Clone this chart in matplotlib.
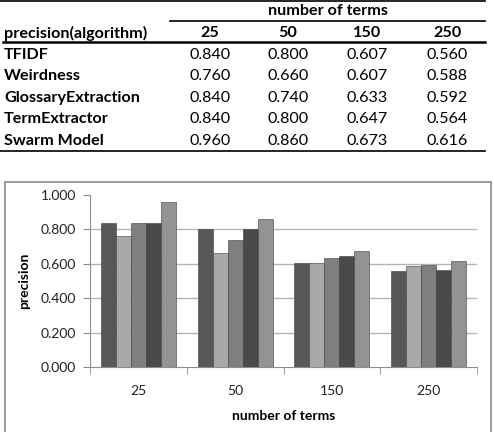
import matplotlib
matplotlib.use('Agg')
import matplotlib.pyplot as plt
import numpy as np
from matplotlib.lines import Line2D
from matplotlib.patches import Rectangle

terms = ['25', '50', '150', '250']
algorithms = ['TFIDF', 'Weirdness', 'GlossaryExtraction', 'TermExtractor', 'Swarm Model']
tfidf = [0.840, 0.800, 0.607, 0.560]
weirdness = [0.760, 0.660, 0.607, 0.588]
glossary = [0.840, 0.740, 0.633, 0.592]
termextractor = [0.840, 0.800, 0.647, 0.564]
swarm = [0.960, 0.860, 0.673, 0.616]
series = [tfidf, weirdness, glossary, termextractor, swarm]
colors = ['#585858', '#a9a9a9', '#7f7f7f', '#4a4a4a', '#939393']
yticks = [0.0, 0.2, 0.4, 0.6, 0.8, 1.0]

W, H = 494, 432
plt.rcParams['font.family'] = ['Lato', 'DejaVu Sans']
fig = plt.figure(figsize=(W / 100, H / 100), dpi=100)


def fx(x):
    return x / W


def fy(y):
    return 1 - y / H


def hline(x0, x1, y, lw=1.0, color='black'):
    fig.add_artist(Line2D([fx(x0), fx(x1)], [fy(y), fy(y)], lw=lw, color=color,
                          transform=fig.transFigure))


# ---- table ----
fs = 11.6
hline(0, 485, 1, lw=1.2)
fig.text(fx(328), fy(11), 'number of terms', ha='center', va='center',
         fontsize=fs, fontweight='bold')
hline(170, 485, 21, lw=1.2)
col_x = [210, 288, 367, 447]
fig.text(fx(4), fy(33), 'precision(algorithm)', ha='left', va='center',
         fontsize=fs, fontweight='bold')
for cx, t in zip(col_x, terms):
    fig.text(fx(cx), fy(33), t, ha='center', va='center', fontsize=fs, fontweight='bold')
hline(3, 485, 42, lw=1.8)
row_y = [55, 76, 98, 119, 141]
for ry, name, vals in zip(row_y, algorithms, series):
    fig.text(fx(4), fy(ry), name, ha='left', va='center', fontsize=fs, fontweight='bold')
    for cx, v in zip(col_x, vals):
        fig.text(fx(cx), fy(ry), '%.3f' % v, ha='center', va='center', fontsize=fs)
hline(0, 485, 151, lw=1.2)

# ---- chart frame ----
fig.add_artist(Rectangle((fx(5), fy(440)), fx(491) - fx(5), fy(182) - fy(440),
                         transform=fig.transFigure, fill=False, ec='#8c8c8c', lw=1.2))

ax = fig.add_axes([fx(90), fy(367), fx(477) - fx(90), fy(195) - fy(367)])
x = np.arange(len(terms))
bw = 0.155
for i, (vals, c) in enumerate(zip(series, colors)):
    ax.bar(x + (i - 2) * bw, vals, bw, color=c, edgecolor='#3c3c3c', linewidth=0.4,
           zorder=3)

ax.set_xlim(-0.5, len(terms) - 0.5)
ax.set_ylim(0, 1.0)
ax.set_yticks(yticks)
ax.set_yticklabels(['%.3f' % t for t in yticks], fontsize=10, color='#222222')
ax.set_xticks(x)
ax.set_xticklabels(terms, fontsize=10, color='#222222')
ax.set_xticks(np.arange(len(terms) + 1) - 0.5, minor=True)
ax.tick_params(axis='x', which='major', length=0, pad=13)
ax.tick_params(axis='x', which='minor', length=5, color='#8c8c8c', direction='out')
ax.tick_params(axis='y', length=5, color='#8c8c8c', direction='out', pad=5)
for yv in yticks[1:-1]:
    ax.axhline(yv, color='#b4b4b4', lw=1.0, zorder=1)
for s in ['top', 'right']:
    ax.spines[s].set_visible(False)
ax.spines['left'].set_color('#8c8c8c')
ax.spines['bottom'].set_color('#8c8c8c')
ax.set_ylabel('precision', fontsize=10, fontweight='bold', labelpad=8)
ax.set_xlabel('number of terms', fontsize=10, fontweight='bold', labelpad=9)

fig.savefig('out.png', dpi=100)
